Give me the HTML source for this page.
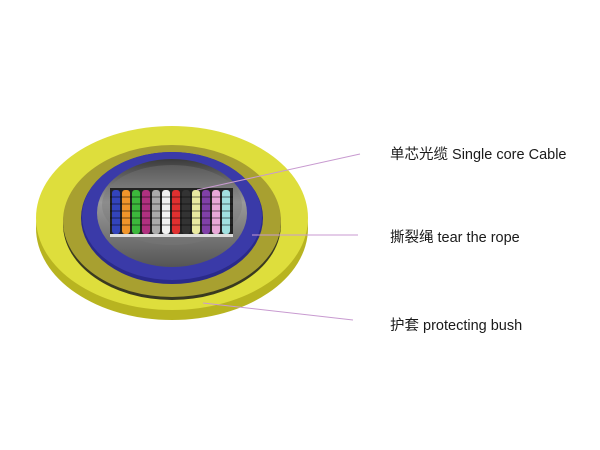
<!DOCTYPE html>
<html><head><meta charset="utf-8"><style>
html,body{margin:0;padding:0;background:#fff;width:600px;height:450px;overflow:hidden}
.t{position:absolute;left:390px;font-family:"Liberation Sans","Noto Sans CJK SC",sans-serif;font-size:14.5px;color:#1a1a1a;white-space:nowrap}
</style></head><body>
<svg width="600" height="450" style="position:absolute;left:0;top:0">
<defs>
<linearGradient id="inner" x1="0" y1="0" x2="0" y2="1"><stop offset="0" stop-color="#3a3a3a"/><stop offset="0.4" stop-color="#9a9a9a"/><stop offset="1" stop-color="#555"/></linearGradient>
</defs>
<ellipse cx="172" cy="228" rx="136" ry="92" fill="#b8b420"/>
<ellipse cx="172" cy="218" rx="136" ry="92" fill="#dede3c"/>
<ellipse cx="172" cy="224" rx="109" ry="76" fill="#3a3a20"/>
<ellipse cx="172" cy="221" rx="109" ry="76" fill="#a8a030"/>
<ellipse cx="172" cy="218" rx="91" ry="66" fill="#2a2a8a"/>
<ellipse cx="172" cy="216" rx="90" ry="64" fill="#3a3aa8"/>
<ellipse cx="172" cy="213" rx="75" ry="54" fill="url(#inner)"/>
<ellipse cx="172" cy="205" rx="70" ry="40" fill="#777" opacity="0.4"/>
<rect x="110" y="188" width="123" height="48" fill="#222"/>
<rect x="112" y="190" width="8" height="44" rx="3" fill="#3344bb"/>
<rect x="122" y="190" width="8" height="44" rx="3" fill="#f0952a"/>
<rect x="132" y="190" width="8" height="44" rx="3" fill="#3cb83c"/>
<rect x="142" y="190" width="8" height="44" rx="3" fill="#b03080"/>
<rect x="152" y="190" width="8" height="44" rx="3" fill="#aaaaaa"/>
<rect x="162" y="190" width="8" height="44" rx="3" fill="#f2f2f2"/>
<rect x="172" y="190" width="8" height="44" rx="3" fill="#e03030"/>
<rect x="182" y="190" width="8" height="44" rx="3" fill="#333333"/>
<rect x="192" y="190" width="8" height="44" rx="3" fill="#e8e8a0"/>
<rect x="202" y="190" width="8" height="44" rx="3" fill="#8040a8"/>
<rect x="212" y="190" width="8" height="44" rx="3" fill="#e8a8d8"/>
<rect x="222" y="190" width="8" height="44" rx="3" fill="#a0e0e0"/>
<g stroke="#000" stroke-opacity="0.35" stroke-width="1.5">
<line x1="110" y1="197" x2="233" y2="197"/><line x1="110" y1="204" x2="233" y2="204"/><line x1="110" y1="211" x2="233" y2="211"/><line x1="110" y1="218" x2="233" y2="218"/><line x1="110" y1="225" x2="233" y2="225"/>
</g>
<rect x="110" y="234" width="123" height="3" fill="#ddd"/>
<line x1="197" y1="190" x2="360" y2="154" stroke="#c89ad0" stroke-width="1"/>
<line x1="252" y1="235" x2="358" y2="235" stroke="#c89ad0" stroke-width="1"/>
<line x1="203" y1="303" x2="353" y2="320" stroke="#c89ad0" stroke-width="1"/>
</svg>
<div class="t" style="top:143px">单芯光缆 Single core Cable</div>
<div class="t" style="top:226px">撕裂绳 tear the rope</div>
<div class="t" style="top:314px">护套 protecting bush</div>
</body></html>
